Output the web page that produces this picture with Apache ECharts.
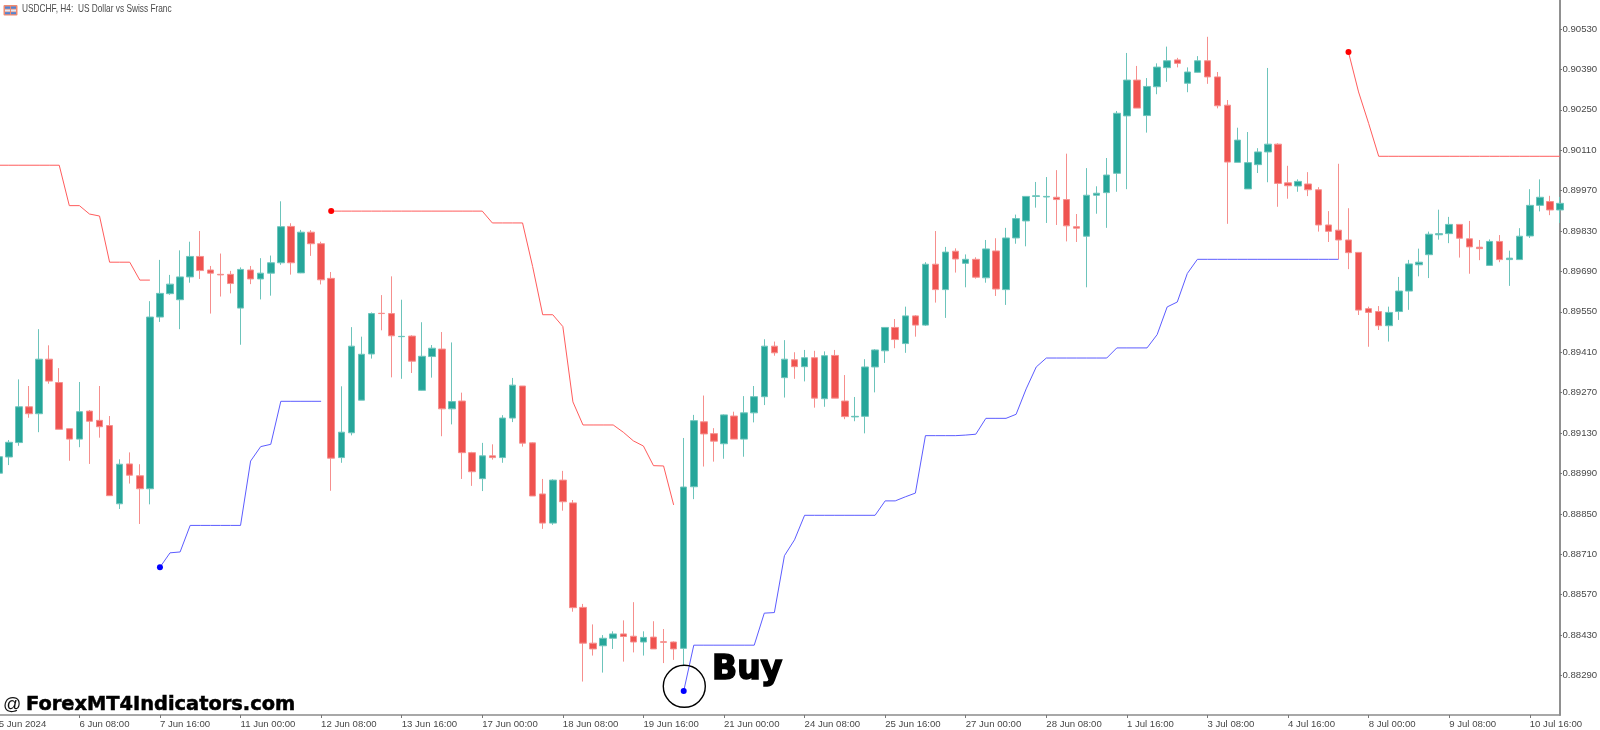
<!DOCTYPE html>
<html><head><meta charset="utf-8">
<style>html,body{margin:0;padding:0;background:#fff}#c{width:1600px;height:730px}</style>
<script src="https://cdn.jsdelivr.net/npm/echarts@6/dist/echarts.min.js"></script>
</head><body><div id="c"></div>
<script>
// Prices in points (1 point = 0.00001)
const opens = [88991,
89047,89097,89221,89197,89386,89305,89145,89109,89206,89174,
89156,88885,89023,88982,88937,89532,89613,89592,89671,89742,
89695,89680,89680,89563,89695,89664,89684,89720,89846,89685,
89826,89786,89666,89045,89131,89244,89404,89545,89544,89464,
89466,89278,89395,89421,89214,89241,89062,88972,89051,89045,
89182,89293,89096,88919,88818,88967,88888,88526,88402,88393,
88419,88434,88426,88406,88423,88407,88406,88384,88944,89169,
89128,89093,89189,89109,89200,89256,89431,89322,89384,89360,
89391,89249,89399,89241,89186,89188,89359,89415,89496,89440,
89536,89504,89715,89627,89760,89718,89732,89668,89761,89627,
89806,89865,89950,89948,89947,89939,89845,89812,89954,89963,
90030,90229,90353,90230,90330,90396,90423,90342,90380,90420,
90364,90266,90068,89976,90060,90104,90131,89997,89986,89993,
89973,89851,89833,89799,89756,89561,89551,89502,89551,89622,
89713,89748,89817,89821,89853,89803,89774,89711,89794,89731,
89731,89813,89919,89932,89903];
const closes = [89048,
89098,89221,89197,89386,89310,89143,89109,89204,89171,89152,
88913,89022,88984,88937,89532,89614,89646,89671,89742,89693,
89684,89678,89648,89697,89664,89684,89720,89845,89720,89826,
89786,89661,89043,89133,89431,89403,89544,89544,89467,89465,
89379,89396,89424,89214,89239,89062,88996,89051,89045,89182,
89296,89095,88912,88818,88967,88892,88525,88402,88382,88419,
88434,88425,88406,88422,88382,88405,88382,88943,89173,89127,
89102,89193,89109,89200,89256,89431,89408,89386,89360,89391,
89251,89398,89251,89187,89188,89359,89418,89496,89454,89536,
89504,89715,89627,89757,89733,89732,89670,89768,89629,89806,
89873,89950,89952,89950,89939,89848,89840,89954,89961,90024,
90238,90353,90256,90331,90398,90420,90411,90381,90420,90364,
90264,90069,90145,90067,90104,90131,89995,89987,90002,89973,
89851,89829,89799,89755,89556,89548,89502,89548,89622,89716,
89722,89819,89821,89853,89805,89775,89769,89794,89731,89736,
89812,89919,89947,89903,89926];
const lows = [88985,
89019,89086,89183,89133,89301,89143,89034,89081,89023,89114,
88913,88867,88955,88815,88883,89515,89609,89490,89651,89664,
89544,89603,89614,89436,89646,89593,89606,89713,89679,89684,
89744,89645,88930,89027,89122,89244,89388,89486,89323,89318,
89338,89277,89322,89119,89160,88971,88947,88929,89038,89027,
89168,89083,88912,88798,88812,88861,88511,88269,88359,88300,
88382,88338,88370,88359,88382,88333,88344,88323,88901,89014,
89031,89041,89109,89048,89167,89227,89398,89253,89318,89309,
89218,89221,89251,89178,89171,89129,89271,89373,89424,89408,
89464,89501,89582,89529,89686,89635,89665,89651,89605,89574,
89786,89777,89911,89858,89851,89794,89792,89635,89890,89841,
89966,89975,90256,90171,90304,90347,90397,90311,90379,90340,
90255,89855,90068,89976,90031,89999,89914,89942,89966,89951,
89828,89792,89732,89698,89539,89429,89487,89447,89522,89557,
89673,89667,89800,89788,89738,89682,89729,89711,89722,89640,
89731,89806,89898,89885,89858];
const highs = [89054,
89106,89316,89293,89490,89434,89355,89145,89307,89210,89293,
89189,89039,89063,89022,89587,89730,89678,89763,89793,89830,
89709,89752,89692,89704,89709,89736,89745,89933,89857,89834,
89833,89793,89688,89292,89497,89464,89548,89608,89673,89592,
89469,89514,89435,89480,89444,89270,89065,89096,89091,89192,
89321,89293,89098,88971,88970,88999,88898,88538,88467,88430,
88443,88481,88544,88443,88478,88451,88408,89113,89193,89260,
89147,89195,89204,89258,89293,89455,89447,89452,89410,89418,
89415,89413,89418,89331,89255,89386,89421,89497,89525,89568,
89539,89722,89830,89775,89770,89749,89739,89799,89805,89841,
89887,89950,90000,90017,90041,90098,89889,90048,89985,90083,
90246,90447,90402,90360,90411,90469,90430,90397,90436,90503,
90381,90284,90188,90173,90117,90395,90134,90056,90009,90034,
89982,89899,90063,89909,89756,89568,89570,89568,89671,89730,
89769,89828,89904,89879,89853,89865,89799,89801,89816,89762,
89840,89975,90009,89952,89948];

const dateLabels = ['5 Jun 2024','6 Jun 08:00','7 Jun 16:00','11 Jun 00:00','12 Jun 08:00','13 Jun 16:00','17 Jun 00:00','18 Jun 08:00','19 Jun 16:00','21 Jun 00:00','24 Jun 08:00','25 Jun 16:00','27 Jun 00:00','28 Jun 08:00','1 Jul 16:00','3 Jul 08:00','4 Jul 16:00','8 Jul 00:00','9 Jul 08:00','10 Jul 16:00'];
const priceTicks = [0.88290,0.88430,0.88570,0.88710,0.88850,0.88990,0.89130,0.89270,0.89410,0.89550,0.89690,0.89830,0.89970,0.90110,0.90250,0.90390,0.90530];

const resist1Start = 0;
const resist1 = [90058,90058,90058,90058,90058,90058,90058,89918,89918,89889,89882,89722,89722,89722,89660,89660];
const support1Start = 16;
const support1 = [88665,88715,88718,88810,88810,88810,88810,88810,88810,89033,89083,89091,89240,89240,89240,89240,89240];
const resist2Start = 33;
const resist2 = [89899,89899,89899,89899,89899,89899,89899,89899,89899,89899,89899,89899,89899,89899,89899,89899,89858,89858,89858,89858,89707,89540,89540,89499,89238,89158,89158,89158,89158,89133,89103,89085,89017,89016,88881];
const support2Start = 68;
const support2 = [88236,88395,88395,88395,88395,88395,88395,88395,88506,88508,88705,88760,88845,88845,88845,88845,88845,88845,88845,88845,88895,88895,88909,88922,89121,89121,89121,89121,89123,89126,89181,89181,89181,89195,89283,89359,89390,89390,89390,89390,89390,89390,89390,89425,89425,89425,89425,89471,89567,89584,89683,89732,89732,89732,89732,89732,89732,89732,89732,89732,89732,89732,89732,89732,89732,89732];
const resist3Start = 134;
const resist3 = [90450,90312,90203,90089,90089,90089,90089,90089,90089,90089,90089,90089,90089,90089,90089,90089,90089,90089,90089,90089,90089,90089];

const P = 1e5;
const categories = opens.map((_, i) => i % 8 === 0 ? (dateLabels[i / 8] || '') : '');
const candles = opens.map((o, i) => [o / P, closes[i] / P, lows[i] / P, highs[i] / P]);
const seg = (start, arr) => arr.map((v, i) => [start + i, v / P]);
const RED = '#ff5c5c', BLUE = '#5c5cff';
const lineSeries = (start, arr, color) => ({
  type: 'line', data: seg(start, arr), showSymbol: false, silent: true, animation: false, z: 4,
  lineStyle: { color, width: 1 }, itemStyle: { color }
});
const dot = (start, arr, color) => ({
  type: 'scatter', data: [[start, arr[0] / P]], symbolSize: 6, z: 5, animation: false, silent: true,
  itemStyle: { color, opacity: 1 }
});
const axisFont = { fontFamily: 'Liberation Sans', fontSize: 9.6, color: '#484848' };

const chart = echarts.init(document.getElementById('c'), null, { renderer: 'canvas' });
chart.setOption({
  animation: false,
  backgroundColor: '#fff',
  grid: { left: -1.2, right: 40, top: 0, bottom: 15, outerBoundsMode: 'none', containLabel: false },
  xAxis: {
    type: 'category', data: categories, boundaryGap: false,
    axisLine: { onZero: false, lineStyle: { color: '#8c8c8c', width: 1.5 } },
    axisTick: { show: true, length: 3, interval: i => i % 8 === 0, lineStyle: { color: '#777' } },
    axisLabel: { ...axisFont, interval: i => i % 8 === 0, align: 'left', margin: 4, hideOverlap: false },
    splitLine: { show: false }
  },
  yAxis: {
    type: 'value', position: 'right', min: 0.881531, max: 0.906305, scale: true,
    axisLine: { show: true, onZero: false, lineStyle: { color: '#909090', width: 2 } },
    axisTick: { show: true, length: 2, customValues: priceTicks, lineStyle: { color: '#777' } },
    axisLabel: { ...axisFont, customValues: priceTicks, margin: 2.5, formatter: v => v.toFixed(5) },
    splitLine: { show: false }
  },
  series: [
    { type: 'candlestick', data: candles, barWidth: 7, silent: true, animation: false, z: 2,
      itemStyle: { color: '#26a69a', color0: '#ef5350', borderColor: '#6cc4bb', borderColor0: '#f68f8d', borderWidth: 1 } },
    lineSeries(resist1Start, resist1, RED),
    lineSeries(support1Start, support1, BLUE),
    lineSeries(resist2Start, resist2, RED),
    lineSeries(support2Start, support2, BLUE),
    lineSeries(resist3Start, resist3, RED),
    dot(support1Start, support1, '#0000ff'),
    dot(resist2Start, resist2, '#ff0000'),
    dot(support2Start, support2, '#0000ff'),
    dot(resist3Start, resist3, '#ff0000')
  ],
  graphic: [
    { type: 'circle', shape: { cx: 684.3, cy: 686.3, r: 21 }, style: { fill: 'none', stroke: '#000', lineWidth: 1.4 }, z: 10 },
    { type: 'text', x: 712, y: 654, z: 10, style: { text: 'Buy', fill: '#000', stroke: '#000', lineWidth: 1.6, font: 'bold 33px "DejaVu Sans"' } },
    { type: 'text', x: 3, y: 696, z: 10, style: { text: '@', fill: '#111', font: '18px "Liberation Sans"' } },
    { type: 'text', x: 26, y: 695.5, z: 10, style: { text: 'ForexMT4Indicators.com', fill: '#000', stroke: '#000', lineWidth: 0.5, font: 'bold 19.4px "DejaVu Sans"' } },
    { type: 'text', x: 22, y: 4.5, scaleX: 0.8, z: 10, style: { text: 'USDCHF, H4:  US Dollar vs Swiss Franc', fill: '#4a4a4a', font: '10.4px "Liberation Sans"' } },
    { type: 'rect', shape: { x: 3.5, y: 5, width: 14, height: 10.5, r: 1 }, style: { fill: '#ef8a70' }, z: 10 },
    { type: 'rect', shape: { x: 5, y: 6.5, width: 5, height: 2.2 }, style: { fill: '#4f86d6' }, z: 11 },
    { type: 'rect', shape: { x: 11, y: 6.5, width: 5, height: 2.2 }, style: { fill: '#4f86d6' }, z: 11 },
    { type: 'rect', shape: { x: 5, y: 9.5, width: 5, height: 2 }, style: { fill: '#dfe8f5' }, z: 11 },
    { type: 'rect', shape: { x: 11, y: 9.5, width: 5, height: 2 }, style: { fill: '#dfe8f5' }, z: 11 },
    { type: 'rect', shape: { x: 5, y: 12.2, width: 5, height: 2 }, style: { fill: '#4f86d6' }, z: 11 },
    { type: 'rect', shape: { x: 11, y: 12.2, width: 5, height: 2 }, style: { fill: '#4f86d6' }, z: 11 }
  ]
});
</script></body></html>
